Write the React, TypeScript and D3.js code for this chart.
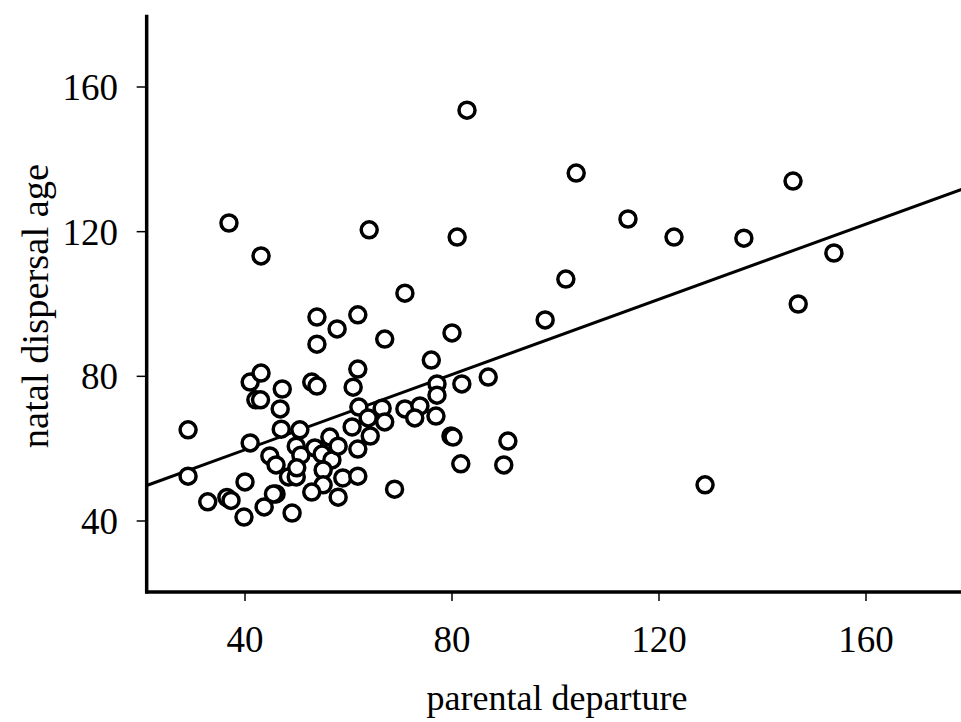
import React from "react";
import * as d3 from "d3";

const parentalDeparture = [
  29, 29, 36.9, 43.1, 32.8, 36.5, 37.3, 39.8, 40, 41, 41, 43.1, 42.1, 43, 43.7, 46, 49.1,
  47.2, 46.8, 47, 44.8, 46, 50.6, 49.9, 50.8, 48.4, 49.9, 53.5, 54.9, 56.8, 55.1, 55.1,
  58.9, 61.8, 52.9, 58, 52.9, 53.9, 60.9, 61.8, 62, 63.8, 64.2, 60.7, 56.4, 58, 61.8,
  53.9, 53.9, 57.8, 61.8, 64, 67, 70.9, 66.5, 67, 68.9, 70.9, 73.8, 72.8, 76.9, 77.1,
  77.1, 76, 80, 81.9, 79.8, 80.2, 81.7, 90, 90.8, 87, 81, 82.9, 98, 102, 104, 114, 122.9,
  136.4, 145.9, 146.9, 153.8, 128.9, 50, 45.5
];
const natalDispersalAge = [
  65.2, 52.4, 122.4, 113.3, 45.3, 46.5, 45.7, 41.1, 50.8, 61.6, 78.4, 80.9, 73.5, 73.5,
  43.9, 47.5, 42.2, 76.5, 71, 65.4, 58, 55.5, 65.2, 60.7, 58.2, 52.2, 52.2, 60.2, 58.5,
  56.9, 54.1, 50, 51.9, 52.4, 48, 46.6, 78.4, 77.3, 77, 82, 71.5, 68.5, 63.5, 66, 63.2,
  60.7, 59.9, 96.4, 88.9, 93.1, 97, 120.5, 90.3, 103, 71.2, 67.4, 48.8, 71, 71.8, 68.5,
  69, 77.9, 74.8, 84.5, 92, 77.9, 63.5, 63.2, 55.8, 55.5, 62.1, 79.8, 118.5, 153.6, 95.6,
  106.9, 136.2, 123.5, 118.5, 118.2, 134, 100, 114.1, 50, 54.7, 47.5
];
const xTicks = [40, 80, 120, 160];
const yTicks = [40, 80, 120, 160];
const fitIntercept = 38.9;
const fitSlope = 0.52;

export default function App() {
  const W = 961, H = 722;
  const x = d3.scaleLinear().domain([40, 160]).range([245, 866]);
  const y = d3.scaleLinear().domain([40, 160]).range([521, 87]);
  const xMin = 21, xMax = 178.5, yMin = 20.4, yMax = 180;
  const pts = parentalDeparture.map((d, i) => [d, natalDispersalAge[i]]);
  const line = d3.line<number>().x((d) => x(d)).y((d) => y(fitIntercept + fitSlope * d));
  const font = "'Liberation Serif', 'Times New Roman', serif";
  return (
    <svg width={W} height={H} style={{ position: "absolute", left: 0, top: 0, background: "#fff" }}>
      <rect width={W} height={H} fill="#fff" />
      {/* axes */}
      <line x1={x(xMin)} x2={x(xMin)} y1={y(yMax)} y2={y(yMin) + 1.5} stroke="#000" strokeWidth={3.5} />
      <line x1={x(xMin) - 1.5} x2={x(xMax)} y1={y(yMin)} y2={y(yMin)} stroke="#000" strokeWidth={3.5} />
      {yTicks.map((t) => (
        <g key={"y" + t}>
          <line x1={x(xMin) - 10} x2={x(xMin)} y1={y(t)} y2={y(t)} stroke="#000" strokeWidth={1.5} />
          <text x={118} y={y(t)} dy="0.35em" textAnchor="end" fontFamily={font} fontSize={37}>{t}</text>
        </g>
      ))}
      {xTicks.map((t) => (
        <g key={"x" + t}>
          <line x1={x(t)} x2={x(t)} y1={y(yMin)} y2={y(yMin) + 9} stroke="#000" strokeWidth={1.5} />
          <text x={x(t)} y={652} textAnchor="middle" fontFamily={font} fontSize={37}>{t}</text>
        </g>
      ))}
      <text x={557} y={710} textAnchor="middle" fontFamily={font} fontSize={36}>parental departure</text>
      <text transform={`translate(48,306) rotate(-90)`} textAnchor="middle" fontFamily={font} fontSize={38.5}>natal dispersal age</text>
      {/* fit line */}
      <path d={line([xMin, xMax]) || ""} fill="none" stroke="#000" strokeWidth={3} />
      {/* points */}
      {pts.map((p, i) => (
        <circle key={i} cx={x(p[0])} cy={y(p[1])} r={8} fill="#fff" stroke="#000" strokeWidth={3.5} />
      ))}
    </svg>
  );
}
